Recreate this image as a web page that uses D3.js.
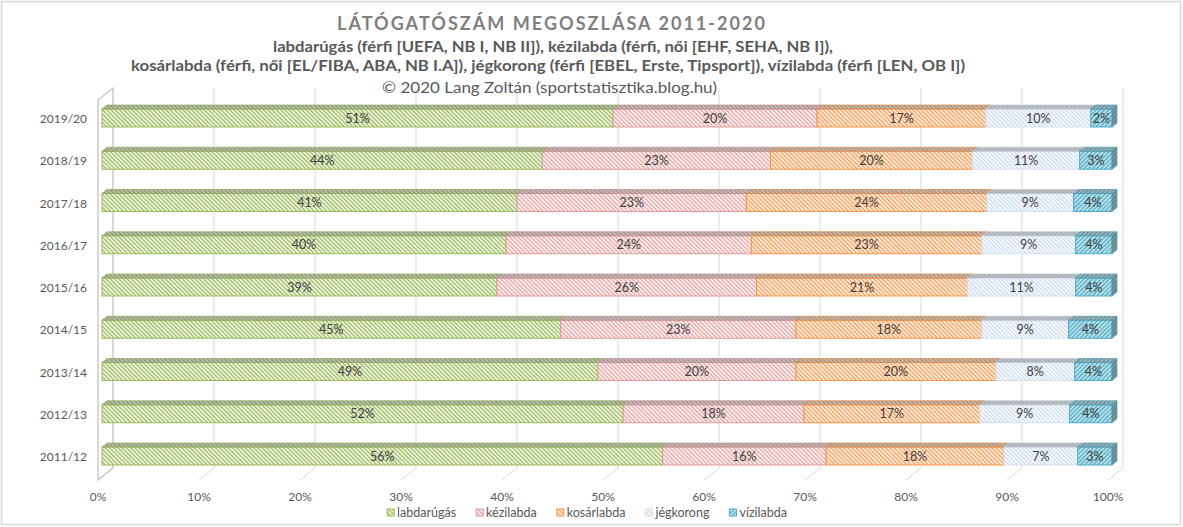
<!DOCTYPE html>
<html><head><meta charset="utf-8">
<script src="https://cdn.jsdelivr.net/npm/d3@7"></script>
<style>html,body{margin:0;padding:0;background:#fff}svg{display:block}</style>
</head><body>
<svg id="c" width="1183" height="527"></svg>
<script>
const categories = ["2019/20","2018/19","2017/18","2016/17","2015/16","2014/15","2013/14","2012/13","2011/12"];
const seriesNames = ["labdarúgás","kézilabda","kosárlabda","jégkorong","vízilabda"];
const labdarugas = [50.6,43.6,41.1,40.0,39.1,45.4,49.1,51.6,55.5];
const kezilabda  = [20.2,22.6,22.7,24.3,25.7,23.3,19.6,17.9,16.2];
const kosarlabda = [16.7,20.0,23.8,22.8,20.9,18.4,19.8,17.4,17.6];
const jegkorong  = [10.4,10.6, 8.6, 9.3,10.7, 8.6, 7.8, 8.9, 7.3];
const vizilabda  = [ 2.1, 3.2, 3.8, 3.6, 3.6, 4.3, 3.7, 4.2, 3.4];
const tickValues = [0,10,20,30,40,50,60,70,80,90,100];
const titleText = "LÁTÓGATÓSZÁM MEGOSZLÁSA 2011-2020";
const subtitleLines = ["labdarúgás (férfi [UEFA, NB I, NB II]), kézilabda (férfi, női [EHF, SEHA, NB I]),",
  "kosárlabda (férfi, női [EL/FIBA, ABA, NB I.A]), jégkorong (férfi [EBEL, Erste, Tipsport]), vízilabda (férfi [LEN, OB I])"];
const creditText = "© 2020 Lang Zoltán (sportstatisztika.blog.hu)";

const seriesValues = [labdarugas, kezilabda, kosarlabda, jegkorong, vizilabda];
const styles = [
  {stroke:"#9bbb59", stripe:"#9bbb59", bg:"#ffffff", dir:-45},
  {stroke:"#dc9c9b", stripe:"#e4a3a2", bg:"#ffffff", dir:-45},
  {stroke:"#f79646", stripe:"#f89a50", bg:"#ffffff", dir:-45},
  {stroke:"#d6e0ec", stripe:"#cddcee", bg:"#ffffff", dir:-45},
  {stroke:"#4bacc6", stripe:"#4fadc6", bg:"#d3ebf1", dir:45}
];
const FONT = "Lato, 'Open Sans', sans-serif";
const svg = d3.select("#c");
const defs = svg.append("defs");
const PW = 3;
styles.forEach((s,i)=>{
  const p = defs.append("pattern").attr("id","p"+i).attr("patternUnits","userSpaceOnUse")
    .attr("width",PW).attr("height",PW).attr("patternTransform",`rotate(${s.dir})`);
  p.append("rect").attr("width",PW).attr("height",PW).attr("fill",s.bg);
  p.append("rect").attr("width",PW/2).attr("height",PW).attr("fill",s.stripe);
});

// border
svg.append("rect").attr("x",1.5).attr("y",1.5).attr("width",1179).attr("height",523)
  .attr("fill","#fff").attr("stroke","#d9d9d9").attr("stroke-width",1.5);

const x = d3.scaleLinear().domain([0,100]).range([98,1108]);
const y = d3.scalePoint().domain(categories).range([118,456]);
const backDx = 15, backDy = -12, floorY = 480, wallTop = 100;
const barDx = 4, barH = 18, depX = 5, depY = -4;

// back wall gridlines and floor ticks
const g = svg.append("g");
tickValues.forEach(v=>{
  if(v>0){
    g.append("line").attr("x1",x(v)+backDx).attr("x2",x(v)+backDx)
      .attr("y1",wallTop+backDy).attr("y2",floorY+backDy).attr("stroke","#d9d9d9");
    g.append("line").attr("x1",x(v)).attr("y1",floorY).attr("x2",x(v)+backDx).attr("y2",floorY+backDy)
      .attr("stroke","#d9d9d9");
  }
});
// left wall
g.append("path").attr("d",`M${x(0)},${floorY}L${x(0)},${wallTop}L${x(0)+backDx},${wallTop+backDy}L${x(0)+backDx},${floorY+backDy}Z`)
  .attr("fill","none").attr("stroke","#bfbfbf").attr("stroke-width",1.2);

// bars
const bars = svg.append("g");
categories.forEach((cat,ci)=>{
  let cum = 0;
  const cy = y(cat), y0 = cy - barH/2, y1 = cy + barH/2;
  seriesValues.forEach((vals,si)=>{
    const v = vals[ci];
    const xa = x(cum)+barDx, xb = x(cum+v)+barDx;
    cum += v;
    const s = styles[si];
    bars.append("rect").attr("x",xa).attr("y",y0).attr("width",xb-xa).attr("height",barH)
      .attr("fill",`url(#p${si})`).attr("stroke",s.stroke).attr("stroke-width",1);
    const top = `M${xa},${y0}L${xa+depX},${y0+depY}L${xb+depX},${y0+depY}L${xb},${y0}Z`;
    bars.append("path").attr("d",top).attr("fill",`url(#p${si})`);
    bars.append("path").attr("d",top).attr("fill","rgba(120,120,120,0.45)")
      .attr("stroke",d3.color(s.stroke).darker(0.4)).attr("stroke-width",0.6);
    if(si===seriesValues.length-1){
      const side = `M${xb},${y0}L${xb+depX},${y0+depY}L${xb+depX},${y1+depY}L${xb},${y1}Z`;
      bars.append("path").attr("d",side).attr("fill",`url(#p${si})`);
      bars.append("path").attr("d",side).attr("fill","rgba(90,90,90,0.55)")
        .attr("stroke",d3.color(s.stroke).darker(0.4)).attr("stroke-width",0.6);
    }
    bars.append("text").attr("x",(xa+xb)/2).attr("y",cy+4.5).attr("text-anchor","middle")
      .attr("font-family",FONT).attr("font-size",12.5).attr("fill","#404040")
      .text(Math.round(v)+"%");
  });
});

// category labels
svg.append("g").selectAll("text").data(categories).join("text")
  .attr("x",87).attr("y",d=>y(d)+5).attr("text-anchor","end")
  .attr("font-family",FONT).attr("font-size",12).attr("fill","#595959").text(d=>d);

// x tick labels
svg.append("g").selectAll("text").data(tickValues).join("text")
  .attr("x",d=>x(d)).attr("y",501).attr("text-anchor","middle")
  .attr("font-family",FONT).attr("font-size",12).attr("fill","#595959").text(d=>d+"%");

// titles
function fitText(sel, left, right){
  sel.attr("x",(left+right)/2).attr("text-anchor","middle")
    .attr("textLength",right-left).attr("lengthAdjust","spacingAndGlyphs");
}
fitText(svg.append("text").attr("y",30).attr("font-family",FONT).attr("font-weight","bold")
  .attr("font-size",18).attr("fill","#7f7f7f").attr("letter-spacing",2).text(titleText),337,767);
fitText(svg.append("text").attr("y",52).attr("font-family",FONT).attr("font-weight","bold")
  .attr("font-size",14.5).attr("fill","#595959").text(subtitleLines[0]),273,833);
fitText(svg.append("text").attr("y",71).attr("font-family",FONT).attr("font-weight","bold")
  .attr("font-size",14.5).attr("fill","#595959").text(subtitleLines[1]),131,965);
fitText(svg.append("text").attr("y",93).attr("font-family",FONT)
  .attr("font-size",14.5).attr("fill","#595959").text(creditText),382,717);

// legend
const lg = svg.append("g");
let lx = 0;
seriesNames.forEach((n,i)=>{
  const it = lg.append("g");
  it.append("rect").attr("x",0).attr("y",-4).attr("width",7).attr("height",7)
    .attr("fill",`url(#p${i})`).attr("stroke",styles[i].stroke).attr("stroke-width",1);
  const t = it.append("text").attr("x",10).attr("y",4).attr("font-family",FONT).attr("font-size",12.5)
    .attr("fill","#595959").text(n);
  const w = 10 + t.node().getComputedTextLength();
  it.attr("transform",`translate(${lx},513)`);
  lx += w + 20;
});
const totalW = lx - 20;
lg.attr("transform",`translate(${587 - totalW/2},0)`);
</script>
</body></html>
